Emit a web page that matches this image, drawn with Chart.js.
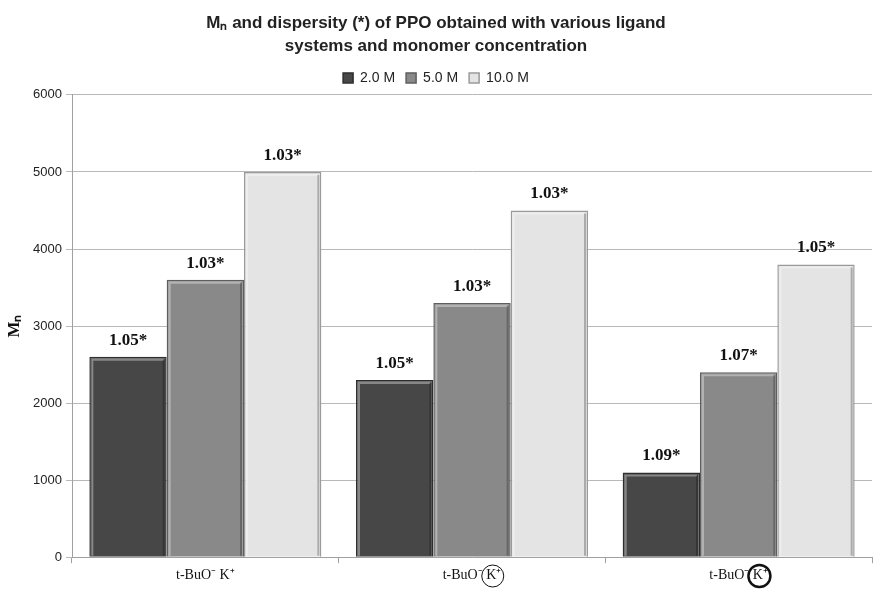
<!DOCTYPE html>
<html>
<head>
<meta charset="utf-8">
<script src="https://cdn.jsdelivr.net/npm/chart.js@4"></script>
<style>
  html, body { margin: 0; padding: 0; background: #fff; }
  #wrap { width: 891px; height: 589px; }
</style>
</head>
<body>
<div id="wrap"><canvas id="myChart" width="891" height="589"></canvas></div>
<script>
// categories (ligand systems)
const categories = ['t-BuO\u207B K\u207A', 't-BuO\u207B K\u207A', 't-BuO\u207B K\u207A'];
const seriesNames = ['2.0 M', '5.0 M', '10.0 M'];

// Mn values per monomer concentration
const mn2M = [2600, 2300, 1100];
const mn5M = [3600, 3300, 2400];
const mn10M = [5000, 4500, 3800];

// dispersity labels shown on top of bars
const disp2M = ['1.05*', '1.05*', '1.09*'];
const disp5M = ['1.03*', '1.03*', '1.07*'];
const disp10M = ['1.03*', '1.03*', '1.05*'];

const yTicks = [0, 1000, 2000, 3000, 4000, 5000, 6000];

const ctx = document.getElementById('myChart').getContext('2d');

// labels above bars
const barLabels = {
    id: 'barLabels',
    afterDatasetsDraw(chart) {
        const c = chart.ctx;
        const all = [disp2M, disp5M, disp10M];
        c.save();
        c.font = 'bold 17px "Liberation Serif"';
        c.fillStyle = '#111';
        c.textAlign = 'center';
        c.textBaseline = 'bottom';
        chart.data.datasets.forEach((ds, i) => {
            chart.getDatasetMeta(i).data.forEach((bar, j) => {
                c.fillText(all[i][j], bar.x, bar.y - 8);
            });
        });
        c.restore();
    }
};

// soft highlight along bar tops and left edges (bevel look)
const bevel = {
    id: 'bevel',
    afterDatasetsDraw(chart) {
        const c = chart.ctx;
        c.save();
        chart.data.datasets.forEach((ds, i) => {
            chart.getDatasetMeta(i).data.forEach(bar => {
                const l = bar.x - bar.width / 2, r = bar.x + bar.width / 2;
                c.strokeStyle = 'rgba(255,255,255,0.35)';
                c.lineWidth = 2;
                c.beginPath();
                c.moveTo(l + 3, bar.base - 1);
                c.lineTo(l + 3, bar.y + 3);
                c.lineTo(r - 3, bar.y + 3);
                c.stroke();
                c.strokeStyle = 'rgba(0,0,0,0.25)';
                c.beginPath();
                c.moveTo(r - 3, bar.y + 3);
                c.lineTo(r - 3, bar.base - 1);
                c.stroke();
            });
        });
        c.restore();
    }
};

// circles around K+ (thin for 2nd group, thick for 3rd)
const circleK = {
    id: 'circleK',
    afterDraw(chart) {
        const c = chart.ctx;
        const xs = chart.scales.x;
        const widths = [0, 1, 2.5];
        c.save();
        c.font = '14px "Liberation Serif"';
        xs.ticks.forEach((t, i) => {
            if (!widths[i]) return;
            const label = categories[i];
            const full = c.measureText(label).width;
            const kw = c.measureText('K\u207A').width;
            const cx = xs.getPixelForTick(i) + full / 2 - kw / 2 - 1;
            c.beginPath();
            c.lineWidth = widths[i];
            c.strokeStyle = '#111';
            c.arc(cx, 576, 11, 0, Math.PI * 2);
            c.stroke();
        });
        c.restore();
    }
};

const config = {
    type: 'bar',
    data: {
        labels: categories,
        datasets: [{
            label: seriesNames[0],
            data: mn2M,
            backgroundColor: '#474747',
            borderColor: '#2e2e2e',
            borderWidth: 1.5
        }, {
            label: seriesNames[1],
            data: mn5M,
            backgroundColor: '#898989',
            borderColor: '#5e5e5e',
            borderWidth: 1.5
        }, {
            label: seriesNames[2],
            data: mn10M,
            backgroundColor: '#e4e4e4',
            borderColor: '#9a9a9a',
            borderWidth: 1.5
        }]
    },
    options: {
        responsive: false,
        animation: false,
        layout: { padding: { left: 0, right: 19, top: 3, bottom: 1 } },
        datasets: {
            bar: { categoryPercentage: 0.87, barPercentage: 1.0 }
        },
        plugins: {
            title: {
                display: true,
                text: ['M\u2099 and dispersity (*) of PPO obtained with various ligand', 'systems and monomer concentration'],
                color: '#222',
                font: { family: '"Liberation Sans"', size: 17, weight: 'bold', lineHeight: 1.35 },
                padding: { top: 9, bottom: 2 }
            },
            legend: {
                display: true,
                labels: {
                    boxWidth: 10,
                    boxHeight: 10,
                    color: '#222',
                    padding: 11,
                    font: { family: '"Liberation Sans"', size: 14 }
                }
            },
            tooltip: { enabled: false }
        },
        scales: {
            y: {
                min: 0,
                max: 6000,
                afterBuildTicks(axis) {
                    axis.ticks = yTicks.map(v => ({ value: v }));
                },
                afterFit(axis) {
                    axis.width = 72;
                },
                title: {
                    display: true,
                    text: 'M\u2099',
                    color: '#111',
                    font: { family: '"Liberation Serif"', size: 17, weight: 'bold' },
                    padding: { bottom: 4 }
                },
                grid: {
                    color: '#b8b8b8',
                    tickLength: 6,
                    drawTicks: true
                },
                border: { color: '#a0a0a0' },
                ticks: {
                    color: '#222',
                    padding: 4,
                    font: { family: '"Liberation Sans"', size: 13 },
                    callback: v => String(v)
                }
            },
            x: {
                grid: {
                    display: true,
                    drawOnChartArea: false,
                    offset: true,
                    tickLength: 6,
                    color: '#a0a0a0'
                },
                border: { color: '#a0a0a0' },
                ticks: {
                    color: '#111',
                    padding: 4,
                    font: { family: '"Liberation Serif"', size: 14 }
                }
            }
        }
    },
    plugins: [bevel, barLabels, circleK]
};

const myChart = new Chart(ctx, config);
</script>
</body>
</html>
